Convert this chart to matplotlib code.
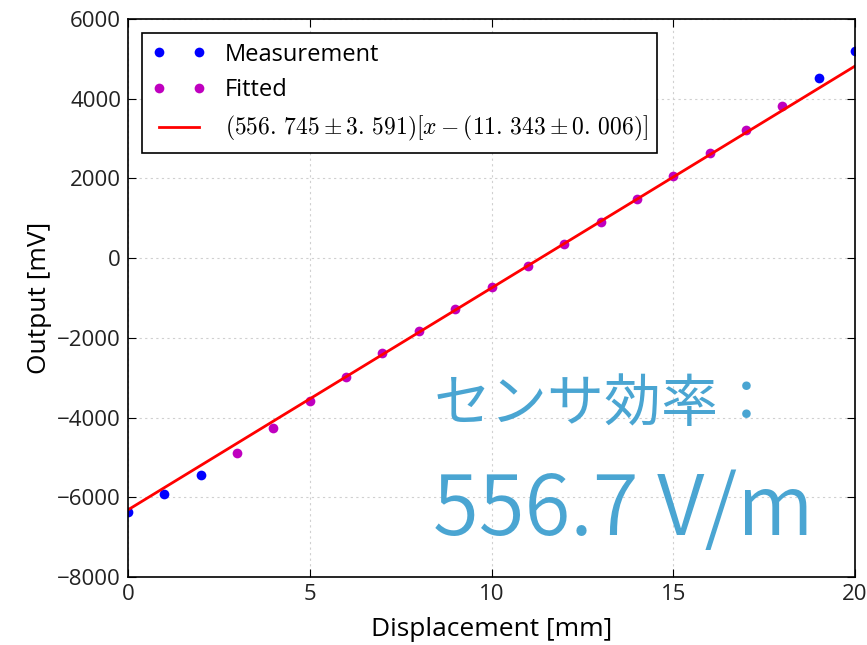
import matplotlib
matplotlib.use("Agg")
import matplotlib.pyplot as plt
import numpy as np

plt.rcParams['font.family'] = ['Open Sans', 'DejaVu Sans']
plt.rcParams['mathtext.fontset'] = 'cm'

# measured displacement [mm] and output [mV]
disp_meas = [0, 1, 2, 19, 20]
out_meas = [-6370, -5910, -5440, 4520, 5200]

disp_fit = [3, 4, 5, 6, 7, 8, 9, 10, 11, 12, 13, 14, 15, 16, 17, 18]
out_fit = [-4880, -4250, -3580, -2980, -2380, -1830, -1270, -720,
           -190, 360, 910, 1490, 2060, 2640, 3220, 3820]

slope = 556.745
x0 = 11.343
fit_label = r'$(556.\,745\pm3.\,591)[x-(11.\,343\pm0.\,006)]$'

fig = plt.figure(figsize=(8.67, 6.45), dpi=100)
ax = fig.add_axes([0.1476, 0.1054, 0.8386, 0.8651])

ax.plot(disp_meas, out_meas, 'o', color='b', markersize=7, markeredgewidth=0, label='Measurement')
ax.plot(disp_fit, out_fit, 'o', color='m', markersize=7, markeredgewidth=0, label='Fitted')
xs = np.array([0, 20])
ax.plot(xs, slope * (xs - x0), '-', color='r', lw=2, label=fit_label)

ax.set_xlim(0, 20)
ax.set_ylim(-8000, 6000)
ax.set_xticks([0, 5, 10, 15, 20])
ax.set_yticks(np.arange(-8000, 6001, 2000))
ax.grid(True, color='#d0d0d0', linestyle=(0, (2, 3)), lw=0.8)
ax.tick_params(direction='in', labelsize=16, labelcolor='#222222', color='k',
               length=6, top=True, right=True, pad=5)
for s in ax.spines.values():
    s.set_linewidth(1.2)
ax.set_xlabel('Displacement [mm]', fontsize=19, labelpad=9)
ax.set_ylabel('Output [mV]', fontsize=19, labelpad=4)

leg = ax.legend(loc='upper left', numpoints=2, fontsize=17, fancybox=False,
                framealpha=1, edgecolor='k', borderaxespad=0.6, handlelength=2.3,
                labelspacing=0.5)
leg.get_frame().set_linewidth(1.2)

ax.text(0.42, 0.28, 'センサ効率：', transform=ax.transAxes, fontsize=41,
        color='#4aa5d2', family=['Noto Sans CJK JP', 'DejaVu Sans'])
ax.text(0.42, 0.075, '556.7 V/m', transform=ax.transAxes, fontsize=60,
        color='#4aa5d2', fontweight=350, family=['Noto Sans CJK JP', 'DejaVu Sans'])

fig.savefig('out.png', dpi=100)
